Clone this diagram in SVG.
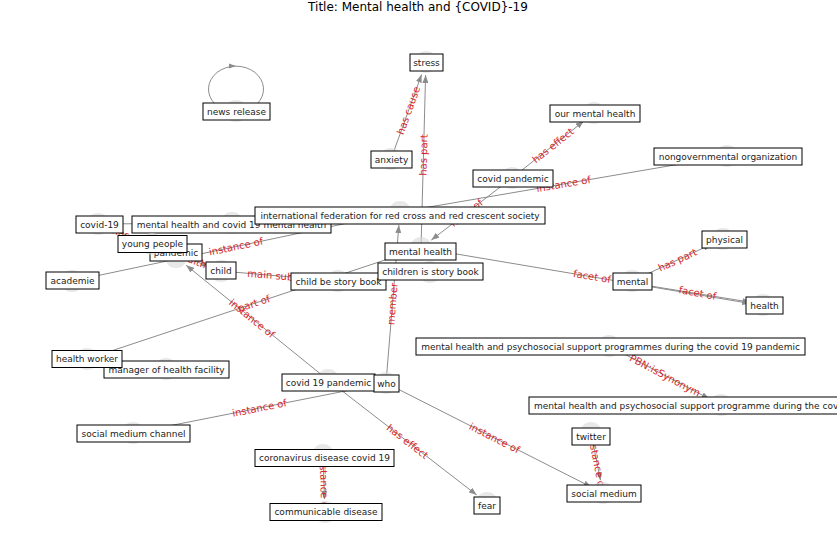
<svg xmlns="http://www.w3.org/2000/svg" width="837" height="559" viewBox="0 0 837 559">
<style>
text{font-family:"DejaVu Sans","Liberation Sans",sans-serif}
.title{font-size:12px;fill:#000}
.e{stroke:#8c8c8c;stroke-width:1;fill:none}
.a{marker-end:url(#arr)}
.el{font-size:10px;fill:#d62728;text-anchor:middle;dominant-baseline:central}
.nc{fill:#d9d9d9;opacity:0.6}
.nb{fill:#fff;stroke:#000;stroke-width:1}
.nt{font-size:9px;fill:#222;text-anchor:middle;dominant-baseline:central}
</style>
<defs>
<marker id="arr" viewBox="0 0 8 6" refX="8" refY="3" markerWidth="8" markerHeight="6" markerUnits="userSpaceOnUse" orient="auto">
<path d="M0,0 L8,3 L0,6 z" fill="#8c8c8c"/>
</marker>
</defs>
<rect width="837" height="559" fill="#fff"/>
<text class="title" x="418" y="11" text-anchor="middle">Title: Mental health and {COVID}-19</text>

<g id="connectors">
<path class="e" d="M215,104 A27.5 23 0 1 1 257,104"/>
<path d="M229,63.5 L236,66 L229,68.5 z" fill="#8c8c8c"/>
<line class="e a" x1="391" y1="159" x2="421.6" y2="74.5"/>
<line class="e a" x1="421" y1="248" x2="425.6" y2="75"/>
<line class="e a" x1="512" y1="178" x2="583.8" y2="121.1"/>
<line class="e a" x1="400" y1="212" x2="714.2" y2="158.2"/>
<line class="e a" x1="512" y1="178" x2="431.3" y2="240.1"/>
<line class="e a" x1="386" y1="383" x2="398.9" y2="225"/>
<line class="e a" x1="421" y1="248" x2="750.2" y2="303.5"/>
<line class="e a" x1="632" y1="283" x2="750.2" y2="302.2"/>
<line class="e a" x1="632" y1="281" x2="711.2" y2="244.4"/>
<line class="e a" x1="609" y1="346" x2="709.5" y2="398.9"/>
<line class="e a" x1="328" y1="380" x2="186.1" y2="265.2"/>
<line class="e a" x1="87" y1="359" x2="408.7" y2="252.1"/>
<line class="e a" x1="72" y1="281" x2="387.3" y2="214.7"/>
<line class="e a" x1="221" y1="271" x2="325" y2="279.9"/>
<line class="e a" x1="98" y1="224" x2="208.9" y2="266.4"/>
<line class="e a" x1="133" y1="433" x2="373.2" y2="385.5"/>
<line class="e a" x1="328" y1="380" x2="476.7" y2="495"/>
<line class="e a" x1="386" y1="383" x2="591.4" y2="487.1"/>
<line class="e a" x1="591" y1="433" x2="600.5" y2="480.2"/>
<line class="e a" x1="323" y1="455" x2="324.5" y2="499"/>
<line class="e a" x1="98" y1="224" x2="219" y2="223.1"/>
</g>

<g id="edge-labels">
<text class="el" transform="translate(408.5,110.5) rotate(-70.2)">has cause</text>
<text class="el" transform="translate(423.5,155) rotate(-88.5)">has part</text>
<text class="el" transform="translate(553,145.5) rotate(-38.4)">has effect</text>
<text class="el" transform="translate(563.5,184) rotate(-9.7)">instance of</text>
<text class="el" transform="translate(466.5,213) rotate(-37.6)">facet of</text>
<text class="el" transform="translate(393,297.5) rotate(-85.3)">member of</text>
<text class="el" transform="translate(592,276.5) rotate(9.5)">facet of</text>
<text class="el" transform="translate(697.5,293) rotate(10.4)">facet of</text>
<text class="el" transform="translate(677.5,260) rotate(-24.8)">has part</text>
<text class="el" transform="translate(665,375.5) rotate(27.8)">PBN:isSynonym</text>
<text class="el" transform="translate(252,318.5) rotate(39)">instance of</text>
<text class="el" transform="translate(254,303.5) rotate(-18.4)">part of</text>
<text class="el" transform="translate(236,246.5) rotate(-11.9)">instance of</text>
<text class="el" transform="translate(279.5,276) rotate(4.9)">main subject</text>
<text class="el" transform="translate(159.5,247.5) rotate(20.9)">has effect on health</text>
<text class="el" transform="translate(259.5,408) rotate(-11.2)">instance of</text>
<text class="el" transform="translate(407.5,441.5) rotate(37.7)">has effect</text>
<text class="el" transform="translate(494.5,438) rotate(26.9)">instance of</text>
<text class="el" transform="translate(597,463) rotate(78.7)">instance of</text>
<text class="el" transform="translate(324,483.5) rotate(88)">instance of</text>
</g>

<g id="n-stress"><circle class="nc" cx="426" cy="62" r="11"/><rect class="nb" x="410" y="54" width="33" height="17"/><text class="nt" x="426.5" y="62.5">stress</text></g>
<g id="n-news-release"><circle class="nc" cx="236" cy="111" r="11"/><rect class="nb" x="203" y="103" width="67" height="17"/><text class="nt" x="236.5" y="111.5">news release</text></g>
<g id="n-anxiety"><circle class="nc" cx="391" cy="159" r="11"/><rect class="nb" x="371" y="151" width="41" height="17"/><text class="nt" x="391.5" y="159.5">anxiety</text></g>
<g id="n-our-mental-health"><circle class="nc" cx="594" cy="113" r="11"/><rect class="nb" x="550" y="105" width="90" height="17"/><text class="nt" x="595" y="113.5">our mental health</text></g>
<g id="n-ngo"><circle class="nc" cx="727" cy="156" r="11"/><rect class="nb" x="654" y="148" width="148" height="17"/><text class="nt" x="728" y="156.5">nongovernmental organization</text></g>
<g id="n-covid-pandemic"><circle class="nc" cx="512" cy="178" r="11"/><rect class="nb" x="473" y="170" width="80" height="17"/><text class="nt" x="513" y="178.5">covid pandemic</text></g>
<g id="n-covid-19"><circle class="nc" cx="98" cy="224" r="11"/><rect class="nb" x="76" y="216" width="47" height="17"/><text class="nt" x="99.5" y="224.5">covid-19</text></g>
<g id="n-mh-covid"><circle class="nc" cx="232" cy="223" r="11"/><rect class="nb" x="132" y="216" width="199" height="17"/><text class="nt" x="231.5" y="224.5">mental health and covid 19 mental health</text></g>
<g id="n-intl-fed"><circle class="nc" cx="400" cy="212" r="11"/><rect class="nb" x="255" y="207" width="290" height="17"/><text class="nt" x="400" y="215.5">international federation for red cross and red crescent society</text></g>
<g id="n-pandemic"><circle class="nc" cx="176" cy="257" r="11"/><rect class="nb" x="150" y="244" width="52" height="17"/><text class="nt" x="176" y="252.5">pandemic</text></g>
<g id="n-young-people"><circle class="nc" cx="152" cy="244" r="11"/><rect class="nb" x="118" y="235.5" width="69" height="17"/><text class="nt" x="152.5" y="244">young people</text></g>
<g id="n-child"><circle class="nc" cx="221" cy="271" r="11"/><rect class="nb" x="206" y="262" width="30" height="17"/><text class="nt" x="221" y="270.5">child</text></g>
<g id="n-academie"><circle class="nc" cx="72" cy="281" r="11"/><rect class="nb" x="46" y="272" width="53" height="17"/><text class="nt" x="72.5" y="280.5">academie</text></g>
<g id="n-mental-health"><circle class="nc" cx="421" cy="248" r="11"/><rect class="nb" x="385" y="243" width="71" height="17"/><text class="nt" x="420.5" y="251.5">mental health</text></g>
<g id="n-child-be-story-book"><circle class="nc" cx="338" cy="281" r="11"/><rect class="nb" x="291" y="273" width="95" height="17"/><text class="nt" x="338.5" y="281.5">child be story book</text></g>
<g id="n-children-is-story-book"><circle class="nc" cx="430" cy="272" r="11"/><rect class="nb" x="378" y="263" width="105" height="17"/><text class="nt" x="430.5" y="271.5">children is story book</text></g>
<g id="n-mental"><circle class="nc" cx="632" cy="281" r="11"/><rect class="nb" x="613" y="273" width="39" height="17"/><text class="nt" x="632.5" y="281.5">mental</text></g>
<g id="n-physical"><circle class="nc" cx="723" cy="239" r="11"/><rect class="nb" x="702" y="231" width="45" height="17"/><text class="nt" x="724.5" y="239.5">physical</text></g>
<g id="n-health"><circle class="nc" cx="763" cy="305" r="11"/><rect class="nb" x="746" y="297" width="37" height="17"/><text class="nt" x="764.5" y="305.5">health</text></g>
<g id="n-manager"><circle class="nc" cx="166" cy="369" r="11"/><rect class="nb" x="104" y="361" width="125" height="17"/><text class="nt" x="166.5" y="369.5">manager of health facility</text></g>
<g id="n-health-worker"><circle class="nc" cx="87" cy="359" r="11"/><rect class="nb" x="52" y="350.5" width="70" height="17"/><text class="nt" x="87" y="359">health worker</text></g>
<g id="n-mhpss-programmes"><circle class="nc" cx="609" cy="346" r="11"/><rect class="nb" x="416" y="338" width="389" height="17"/><text class="nt" x="610.5" y="346.5">mental health and psychosocial support programmes during the covid 19 pandemic</text></g>
<g id="n-mhpss-programme"><circle class="nc" cx="721" cy="405" r="11"/><rect class="nb" x="529" y="397" width="384" height="17"/><text class="nt" x="721" y="405.5">mental health and psychosocial support programme during the covid 19 pandemic</text></g>
<g id="n-covid-19-pandemic"><circle class="nc" cx="328" cy="380" r="11"/><rect class="nb" x="282" y="374" width="93" height="17"/><text class="nt" x="328.5" y="382.5">covid 19 pandemic</text></g>
<g id="n-who"><circle class="nc" cx="386" cy="383" r="11"/><rect class="nb" x="374" y="375" width="25" height="17"/><text class="nt" x="386.5" y="383.5">who</text></g>
<g id="n-social-medium-channel"><circle class="nc" cx="133" cy="433" r="11"/><rect class="nb" x="77" y="425" width="113" height="17"/><text class="nt" x="133.5" y="433.5">social medium channel</text></g>
<g id="n-coronavirus"><circle class="nc" cx="323" cy="455" r="11"/><rect class="nb" x="255" y="449.5" width="139" height="17"/><text class="nt" x="324.5" y="458">coronavirus disease covid 19</text></g>
<g id="n-communicable"><circle class="nc" cx="325" cy="512" r="11"/><rect class="nb" x="270" y="503.5" width="112" height="17"/><text class="nt" x="326" y="512">communicable disease</text></g>
<g id="n-twitter"><circle class="nc" cx="591" cy="433" r="11"/><rect class="nb" x="572" y="428" width="38" height="17"/><text class="nt" x="591" y="436.5">twitter</text></g>
<g id="n-social-medium"><circle class="nc" cx="603" cy="493" r="11"/><rect class="nb" x="567" y="485" width="74" height="17"/><text class="nt" x="604" y="493.5">social medium</text></g>
<g id="n-fear"><circle class="nc" cx="487" cy="503" r="11"/><rect class="nb" x="474" y="497" width="26" height="17"/><text class="nt" x="487" y="505.5">fear</text></g>
</svg>
